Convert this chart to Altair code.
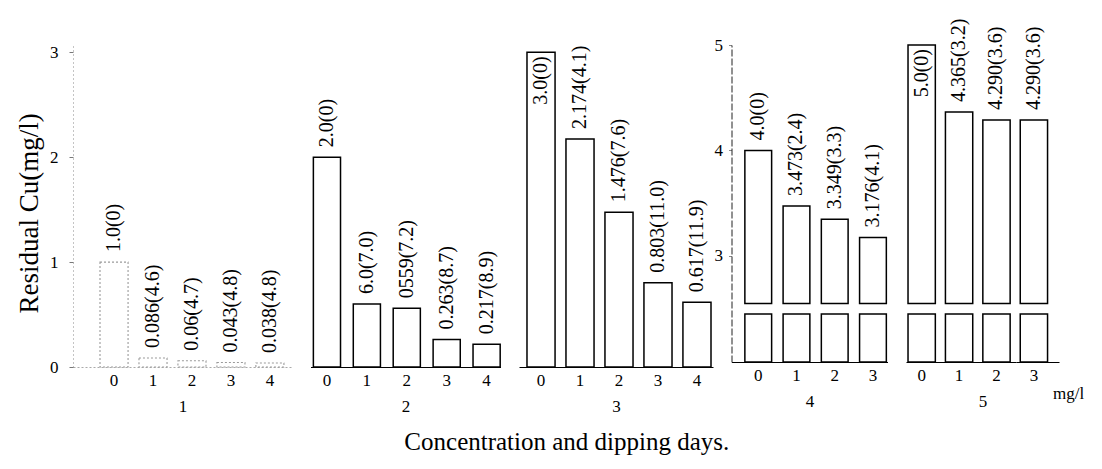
import altair as alt
import pandas as pd

# ---------------- data ----------------
DAYS_A = [0, 1, 2, 3, 4]
DAYS_B = [0, 1, 2, 3]

VALUES_1 = [1.0, 0.086, 0.06, 0.043, 0.038]
LABELS_1 = ["1.0(0)", "0.086(4.6)", "0.06(4.7)", "0.043(4.8)", "0.038(4.8)"]
VALUES_2 = [2.0, 0.6, 0.559, 0.263, 0.217]
LABELS_2 = ["2.0(0)", "6.0(7.0)", "0559(7.2)", "0.263(8.7)", "0.217(8.9)"]
VALUES_3 = [3.0, 2.174, 1.476, 0.803, 0.617]
LABELS_3 = ["3.0(0)", "2.174(4.1)", "1.476(7.6)", "0.803(11.0)", "0.617(11.9)"]
VALUES_4 = [4.0, 3.473, 3.349, 3.176]
LABELS_4 = ["4.0(0)", "3.473(2.4)", "3.349(3.3)", "3.176(4.1)"]
VALUES_5 = [5.0, 4.365, 4.290, 4.290]
LABELS_5 = ["5.0(0)", "4.365(3.2)", "4.290(3.6)", "4.290(3.6)"]

PANEL_NAMES = ["1", "2", "3", "4", "5"]
Y_TICKS_LOW = [0, 1, 2, 3]
Y_TICKS_HIGH = [3, 4, 5]
Y_TITLE = "Residual Cu(mg/l)"
X_TITLE = "Concentration and dipping days."
UNIT = "mg/l"

# ---------------- style ----------------
SERIF = "Liberation Serif"
LOW_DOMAIN = [0, 3.07]
HIGH_DOMAIN = [0, 2.45, 5]
BREAK_LO = 2.45
BREAK_HI = 2.55
H_LOW = 322
H_HIGH = 317
LABEL_SIZE = 20


def frame(days, vals, labels):
    return pd.DataFrame({"day": days, "value": vals, "label": labels})


def x_enc(days, title, pi, po, align, faint=False):
    return alt.X(
        "day:O",
        scale=alt.Scale(domain=days, paddingInner=pi, paddingOuter=po, align=align),
        axis=alt.Axis(
            title=title, labelAngle=0, ticks=False, labelPadding=5,
            labelFontSize=17, titleFontSize=17, titlePadding=10,
            domainColor="#aaaaaa" if faint else "black",
            domainDash=[2, 2] if faint else [1, 0],
            domainWidth=1.2,
        ),
    )


def labels_layer(df, x, yscale, yaxis, inside_days):
    cond = " || ".join(f"datum.day == {d}" for d in inside_days) if inside_days else "false"
    base = alt.Chart(df)
    out = base.transform_filter(f"!({cond})").mark_text(
        angle=270, align="left", baseline="middle", dx=10, font=SERIF, fontSize=LABEL_SIZE, color="black"
    ).encode(x=x, y=alt.Y("value:Q", scale=yscale, axis=yaxis), text="label:N")
    ins = base.transform_filter(cond).mark_text(
        angle=270, align="right", baseline="middle", dx=-4, font=SERIF, fontSize=LABEL_SIZE, color="black"
    ).encode(x=x, y=alt.Y("value:Q", scale=yscale, axis=yaxis), text="label:N")
    return [out, ins]


def low_panel(df, days, name, width, pi, po, align, inside_days, show_axis, faint=False):
    yscale = alt.Scale(domain=LOW_DOMAIN, nice=False, zero=True)
    if show_axis:
        yaxis = alt.Axis(
            title=Y_TITLE, values=Y_TICKS_LOW, tickSize=4, tickColor="#777777",
            labelPadding=11, labelFontSize=17, titleFontSize=27, titlePadding=6,
            titleY=168,
            domainColor="#888888", domainDash=[1, 3], grid=False,
        )
    else:
        yaxis = None
    x = x_enc(days, name, pi, po, align, faint)
    bars = alt.Chart(df).mark_bar(
        fill="white",
        stroke="#9a9a9a" if faint else "black",
        strokeWidth=1.1 if faint else 1.5,
        strokeDash=[2, 2] if faint else [1, 0],
    ).encode(x=x, y=alt.Y("value:Q", scale=yscale, axis=yaxis))
    layers = [bars] + labels_layer(df, x, yscale, yaxis, inside_days)
    return alt.layer(*layers).properties(width=width, height=H_LOW)


def high_panel(df, days, name, width, pi, po, align, inside_days, show_axis, extra=None):
    yscale = alt.Scale(domain=HIGH_DOMAIN, range=[H_HIGH, H_HIGH - 48, 0], nice=False, zero=False)
    if show_axis:
        yaxis = alt.Axis(
            title=None, values=Y_TICKS_HIGH, tickSize=3, labelPadding=6,
            labelFontSize=17, domainColor="#222222", domainDash=[7, 2], grid=False,
        )
    else:
        yaxis = None
    x = x_enc(days, name, pi, po, align)
    base = alt.Chart(df).transform_calculate(brk_hi=str(BREAK_HI), brk_lo=str(BREAK_LO), base="0")
    upper = base.mark_bar(fill="white", stroke="black", strokeWidth=1.5).encode(
        x=x, y=alt.Y("value:Q", scale=yscale, axis=yaxis), y2="brk_hi:Q"
    )
    lower = base.mark_bar(fill="white", stroke="black", strokeWidth=1.5).encode(
        x=x, y=alt.Y("brk_lo:Q", scale=yscale, axis=yaxis), y2="base:Q"
    )
    layers = [upper, lower] + labels_layer(df, x, yscale, yaxis, inside_days)
    if extra is not None:
        layers.append(extra)
    return alt.layer(*layers).properties(width=width, height=H_HIGH)


p1 = low_panel(frame(DAYS_A, VALUES_1, LABELS_1), DAYS_A, PANEL_NAMES[0], 219, 0.28, 0.45, 0.77, [], True, faint=True)
p2 = low_panel(frame(DAYS_A, VALUES_2, LABELS_2), DAYS_A, PANEL_NAMES[1], 190, 0.32, 0.04, 0.9, [], False)
p3 = low_panel(frame(DAYS_A, VALUES_3, LABELS_3), DAYS_A, PANEL_NAMES[2], 194, 0.28, 0.128, 0.8, [0], False)

unit_text = alt.Chart(pd.DataFrame({"t": [UNIT]})).mark_text(
    align="left", baseline="middle", font=SERIF, fontSize=17, color="black"
).encode(x=alt.value(147), y=alt.value(349), text="t:N")

p4 = high_panel(frame(DAYS_B, VALUES_4, LABELS_4), DAYS_B, PANEL_NAMES[3], 156, 0.3, 0.19, 0.92, [], True)
p5 = high_panel(frame(DAYS_B, VALUES_5, LABELS_5), DAYS_B, PANEL_NAMES[4], 153, 0.27, 0.18, 0.15, [0], False, extra=unit_text)

chart = alt.hconcat(p1, p2, p3, p4, p5, spacing=18.5, bounds="flush").properties(
    title=alt.TitleParams(
        text=X_TITLE, orient="bottom", anchor="middle", font=SERIF,
        fontSize=25, fontWeight="normal", color="black", offset=16, dx=17,
    ),
    padding={"left": 7, "top": 10, "right": 5, "bottom": 5},
    background="white",
).configure_view(stroke=None).configure_axis(
    labelFont=SERIF, titleFont=SERIF, titleFontWeight="normal",
    labelColor="black", titleColor="black",
)

chart.save("out.html", embed_options={"renderer": "svg", "actions": False})
